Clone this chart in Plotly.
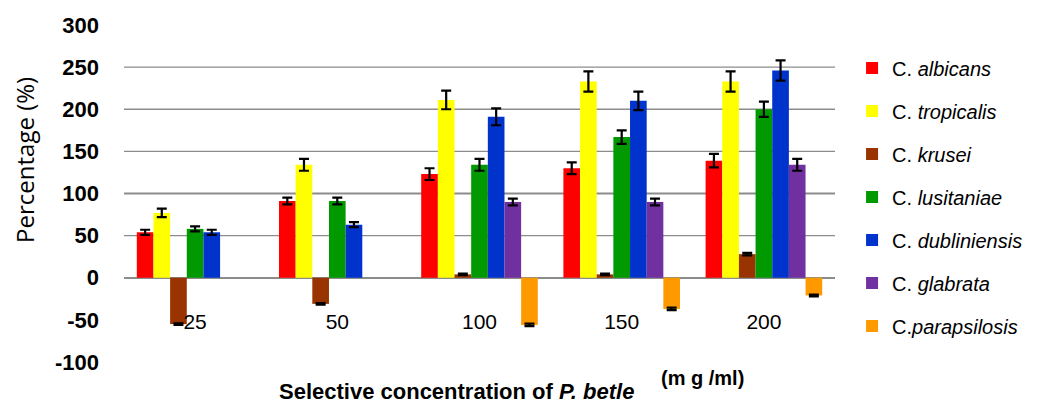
import plotly.graph_objects as go

concentrations = ["25", "50", "100", "150", "200"]
species = ["C. <i>albicans</i>", "C. <i>tropicalis</i>", "C. <i>krusei</i>", "C. <i>lusitaniae</i>",
           "C. <i>dubliniensis</i>", "C. <i>glabrata</i>", "C.<i>parapsilosis</i>"]
colors = ["#FF0000", "#FFFF00", "#993300", "#009900", "#0033CC", "#7030A0", "#FF9900"]

albicans = [54, 91, 123, 130, 139]
tropicalis = [77, 134, 211, 233, 233]
krusei = [-55, -31, 4, 4, 28]
lusitaniae = [58, 91, 134, 167, 200]
dubliniensis = [54, 63, 191, 210, 246]
glabrata = [None, None, 90, 90, 134]
parapsilosis = [None, None, -56, -37, -21]

err_albicans = [3, 4, 7, 7, 8]
err_tropicalis = [5, 7, 11, 12, 12]
err_krusei = [1, 1, 1, 1, 1.5]
err_lusitaniae = [3, 4, 7, 8, 9]
err_dubliniensis = [3, 3, 10, 11, 12]
err_glabrata = [None, None, 4, 4, 7]
err_parapsilosis = [None, None, 1.5, 1.5, 1]

series = [albicans, tropicalis, krusei, lusitaniae, dubliniensis, glabrata, parapsilosis]
errors = [err_albicans, err_tropicalis, err_krusei, err_lusitaniae, err_dubliniensis,
          err_glabrata, err_parapsilosis]

y_ticks = [-100, -50, 0, 50, 100, 150, 200, 250, 300]
y_tick_labels = ["-100", "-50", "0", "50", "100", "150", "200", "250", "300"]
grid_values = [50, 100, 150, 200, 250]

fig = go.Figure()
for i, (name, vals, errs, col) in enumerate(zip(species, series, errors, colors)):
    fig.add_trace(go.Bar(
        x=concentrations, y=vals, name=name, marker=dict(color=col, line=dict(width=0)),
        error_y=dict(type="data", array=errs, visible=True, color="black", thickness=2.2, width=5),
        legendgroup="g%d" % i,
    ))

for g in grid_values:
    fig.add_shape(type="line", xref="paper", yref="y", x0=0, x1=1, y0=g, y1=g,
                  line=dict(color="#8C8C8C", width=2 if g == 100 else 1.4), layer="below")

tick_font = "Liberation Sans, Arial, sans-serif"

fig.update_layout(
    width=1040, height=406,
    margin=dict(l=124, r=200, t=25, b=44),
    paper_bgcolor="white", plot_bgcolor="white",
    barmode="group", bargap=0.18, bargroupgap=0,
    showlegend=True,
    legend=dict(x=1.024, xanchor="left", y=0.93, yanchor="top",
                font=dict(family=tick_font, size=20, color="black"),
                tracegroupgap=14, itemclick=False, bgcolor="rgba(0,0,0,0)"),
    xaxis=dict(type="category", anchor="free", position=0.162, showline=False, showgrid=False,
               ticks="", tickfont=dict(family=tick_font, size=21, color="black"),
               zeroline=False, automargin=False),
    yaxis=dict(range=[-100, 300], tickvals=y_ticks, ticktext=y_tick_labels, showgrid=False,
               zeroline=True, zerolinecolor="#8C8C8C", zerolinewidth=1.6, showline=False,
               ticks="", ticklabelstandoff=24, automargin=False,
               tickfont=dict(family=tick_font, size=22, color="black", weight="bold")),
    annotations=[
        dict(text="Percentage (%)", xref="paper", yref="paper", x=-0.141, y=0.599,
             textangle=-90, showarrow=False, xanchor="center", yanchor="middle",
             font=dict(family="Open Sans, sans-serif", size=24, color="black")),
        dict(text="<b>Selective concentration of <i>P. betle</i></b>", xref="paper", yref="paper",
             x=0.215, y=-0.089, xanchor="left", yanchor="middle", showarrow=False,
             font=dict(family="Liberation Sans, Arial, sans-serif", size=22, color="black")),
        dict(text="<b>(m g /ml)</b>", xref="paper", yref="paper",
             x=0.753, y=-0.048, xanchor="left", yanchor="middle", showarrow=False,
             font=dict(family="Liberation Sans, Arial, sans-serif", size=20, color="black")),
    ],
)

fig.write_html("out.html", config={"displayModeBar": False},
               post_script="document.body.style.margin='0px';document.body.style.overflow='hidden';")
